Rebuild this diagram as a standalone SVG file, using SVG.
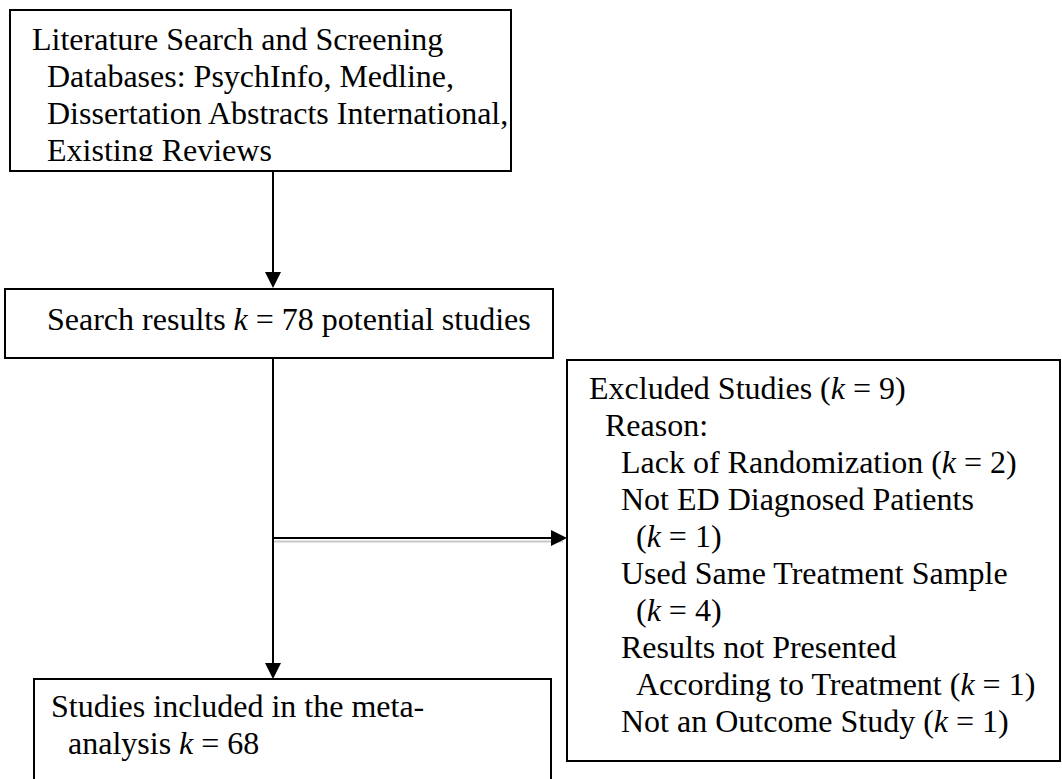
<svg xmlns="http://www.w3.org/2000/svg" width="1062" height="779" viewBox="0 0 1062 779">
<style>
.box{fill:#fff;stroke:#000;stroke-width:2}
.t{font-family:"Liberation Serif","Times New Roman",serif;fill:#000;font-size:32px}
.it{font-style:italic}
.ln{stroke:#000;stroke-width:2;fill:none}
.head{fill:#000}
</style>
<defs>
<clipPath id="clipTop"><rect x="10" y="10" width="501" height="151"/></clipPath>
</defs>
<rect width="1062" height="779" fill="#fff"/>
<g id="connectors">
<line class="ln" x1="273" y1="171" x2="273" y2="272"/>
<path class="head" d="M265,272 L281,272 L273,288 Z"/>
<line class="ln" x1="273" y1="358" x2="273" y2="663"/>
<path class="head" d="M265,663 L281,663 L273,679 Z"/>
<line x1="274" y1="541.5" x2="563" y2="541.5" stroke="#c8c8c8" stroke-width="2"/>
<line class="ln" x1="273" y1="538" x2="551" y2="538"/>
<path class="head" d="M551,530 L567,538 L551,546 Z"/>
</g>
<g id="node-search-lit">
<rect class="box" x="10" y="10" width="501" height="161"/>
<g clip-path="url(#clipTop)">
<text class="t" x="32" y="50">Literature Search and Screening</text>
<text class="t" x="47" y="87">Databases: PsychInfo, Medline,</text>
<text class="t" x="47" y="124">Dissertation Abstracts International,</text>
<text class="t" x="47" y="161">Existing Reviews</text>
</g>
</g>
<g id="node-results">
<rect class="box" x="5" y="289" width="548" height="69"/>
<text class="t" x="47" y="330">Search results <tspan class="it">k</tspan> = 78 potential studies</text>
</g>
<g id="node-excluded">
<rect class="box" x="567" y="360" width="493" height="401"/>
<text class="t" x="589" y="399">Excluded Studies (<tspan class="it">k</tspan> = 9)</text>
<text class="t" x="605" y="436">Reason:</text>
<text class="t" x="621" y="473">Lack of Randomization (<tspan class="it">k</tspan> = 2)</text>
<text class="t" x="621" y="510">Not ED Diagnosed Patients</text>
<text class="t" x="636" y="547">(<tspan class="it">k</tspan> = 1)</text>
<text class="t" x="621" y="584">Used Same Treatment Sample</text>
<text class="t" x="636" y="621">(<tspan class="it">k</tspan> = 4)</text>
<text class="t" x="621" y="658">Results not Presented</text>
<text class="t" x="636" y="695">According to Treatment (<tspan class="it">k</tspan> = 1)</text>
<text class="t" x="621" y="732">Not an Outcome Study (<tspan class="it">k</tspan> = 1)</text>
</g>
<g id="node-included">
<rect class="box" x="34" y="679" width="517" height="110"/>
<text class="t" x="51" y="717">Studies included in the meta-</text>
<text class="t" x="68" y="754">analysis <tspan class="it">k</tspan> = 68</text>
</g>
</svg>
